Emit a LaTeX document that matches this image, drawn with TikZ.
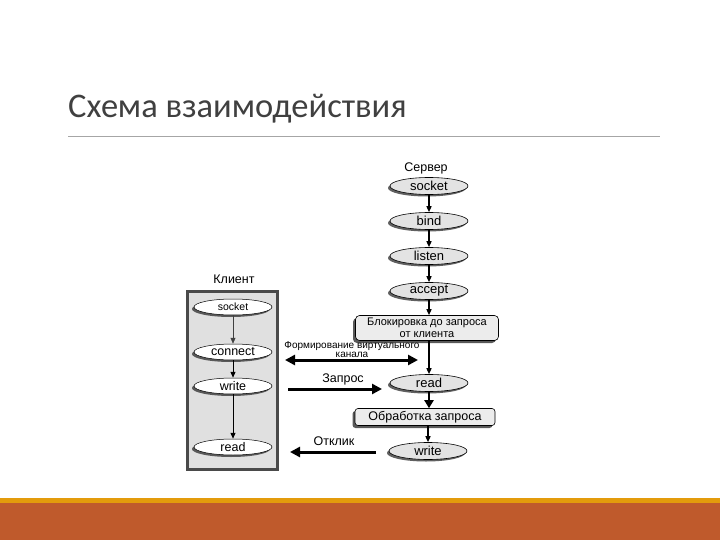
\documentclass[tikz,border=0pt]{standalone}
\usepackage{fontspec}
\setmainfont{Liberation Sans}
\newfontfamily\titlefont{Carlito}
\usetikzlibrary{shapes.geometric,shadows,arrows.meta}
\definecolor{rust}{HTML}{BF5A2C}
\definecolor{amber}{HTML}{E39B0C}
\definecolor{titlegray}{HTML}{404040}
\tikzset{
  srvell/.style={ellipse, draw=black, line width=0.6pt, fill=gray!22, minimum width=78pt, minimum height=17pt, inner sep=0pt,
    font=\fontsize{13}{13}\selectfont,
    drop shadow={shadow xshift=-2pt, shadow yshift=-2pt, fill=gray!75!black, opacity=1}},
  cliell/.style={ellipse, draw=black, line width=0.5pt, fill=white, minimum width=78pt, minimum height=16pt, inner sep=0pt,
    font=\fontsize{12.5}{12.5}\selectfont,
    drop shadow={shadow xshift=-2pt, shadow yshift=-2pt, fill=gray!70!black, opacity=1}},
  srvbox/.style={rectangle, rounded corners=4pt, draw=black, line width=0.6pt, fill=gray!15, inner sep=0pt,
    drop shadow={shadow xshift=-2.5pt, shadow yshift=-2.5pt, fill=gray!70!black, opacity=1}},
  thinarr/.style={-{Triangle[length=6pt,width=5pt]}, line width=1pt},
  thickarr/.style={-{Triangle[length=10pt,width=10pt]}, line width=3pt},
  lbl/.style={inner sep=0pt, font=\fontsize{12.5}{12.5}\selectfont},
  smalllbl/.style={inner sep=0pt, font=\fontsize{10}{10}\selectfont},
}
\begin{document}
\begin{tikzpicture}[x=1pt,y=-1pt]
\useasboundingbox (0,0) rectangle (720,540);
\fill[white] (0,0) rectangle (720,540);
% bottom band
\fill[amber] (0,498) rectangle (720,504);
\fill[rust] (0,503) rectangle (720,540);
% title
\node[anchor=base west, inner sep=0pt, text=titlegray, font=\titlefont\fontsize{34.5}{34.5}\selectfont] (title) at (68,118) {Схема взаимодействия};
\draw[gray!70, line width=0.8pt] (68,136) -- (660,136);

% client box
\node[lbl] (clientlbl) at (234,279) {Клиент};
\node[draw=gray!58!black, line width=3pt, fill=gray!24, minimum width=90pt, minimum height=178pt, inner sep=0pt] (clientbox) at (232.5,380.5) {};
\node[cliell, font=\fontsize{10.5}{10.5}\selectfont] (csocket) at (233,307) {socket};
\node[cliell] (cconnect) at (233,352) {connect};
\node[cliell] (cwrite) at (233,386) {write};
\node[cliell] (cread) at (233,447) {read};
\draw[thinarr, gray!50!black, line width=0.6pt] (csocket) -- (cconnect);
\draw[thinarr] (cconnect) -- (cwrite);
\draw[thinarr] (cwrite) -- (cread);

% server
\node[lbl] (srvlbl) at (426,168) {Сервер};
\node[srvell] (ssocket) at (429,186) {socket};
\node[srvell] (sbind) at (429,221) {bind};
\node[srvell] (slisten) at (429,256) {listen};
\node[srvell] (saccept) at (429,291) {accept};
\node[srvbox, minimum width=143pt, minimum height=25pt, align=center, font=\fontsize{11}{11.5}\selectfont] (sblock) at (427,328) {Блокировка до запроса\\от клиента};
\node[srvell] (sread) at (429,383) {read};
\node[srvbox, minimum width=140pt, minimum height=17pt, rounded corners=3pt, font=\fontsize{12.5}{12.5}\selectfont] (sproc) at (425,417) {Обработка запроса};
\node[srvell] (swrite) at (428,451) {write};
\draw[thinarr, line width=1.4pt] (ssocket) -- (sbind);
\draw[thinarr, line width=1.4pt] (sbind) -- (slisten);
\draw[thinarr, line width=1.4pt] (slisten) -- (saccept);
\draw[thinarr, line width=1.4pt] (saccept) -- (saccept |- sblock.north);
\draw[thinarr, line width=1.4pt] (sblock.south -| sread.north) -- (sread.north);
\draw[-{Triangle[length=8pt,width=9pt]}, line width=2.5pt] (sread) -- (sread |- sproc.north);
\draw[thinarr, line width=1.4pt] (sproc.south -| swrite.north) -- (swrite.north);

% messages
\coordinate (vl) at (285,360);
\coordinate (vr) at (418,360);
\draw[{Triangle[length=10pt,width=10pt]}-{Triangle[length=10pt,width=10pt]}, line width=3pt] (vl) -- (vr);
\node[smalllbl] (vlbl1) at (352,346) {Формирование виртуального};
\node[smalllbl] (vlbl2) at (352,355) {канала};

\coordinate (qs) at (288,389);
\coordinate (qe) at (382,389);
\draw[thickarr] (qs) -- (qe);
\node[lbl] (qlbl) at (343,379) {Запрос};

\coordinate (rs) at (376,452);
\coordinate (re) at (290,452);
\draw[thickarr] (rs) -- (re);
\node[lbl] (rlbl) at (334,441) {Отклик};
\end{tikzpicture}
\end{document}
